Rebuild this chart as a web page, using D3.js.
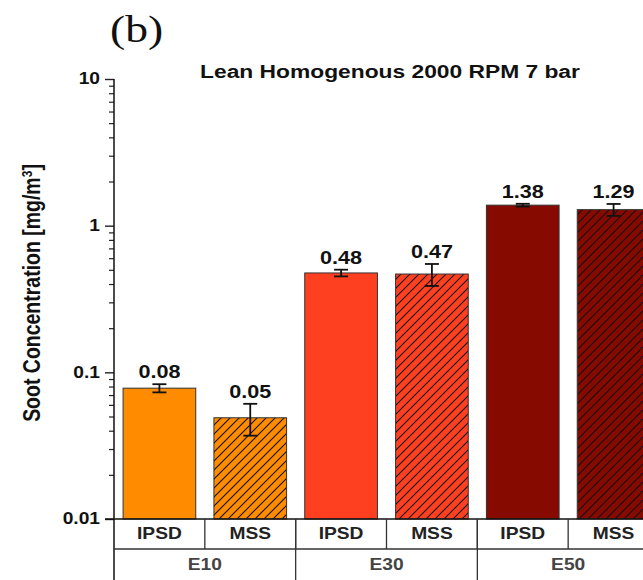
<!DOCTYPE html>
<html>
<head>
<meta charset="utf-8">
<script src="https://cdn.jsdelivr.net/npm/d3@7"></script>
<style>
  html, body { margin: 0; padding: 0; background: #fff; overflow: hidden; }
  svg { display: block; }
  text { font-family: "Liberation Sans", Arial, sans-serif; font-weight: bold; fill: #111; }
</style>
</head>
<body>
<div id="chart"></div>
<script>
// ---------------- data ----------------
const panelLabel = "(b)";
const chartTitle = "Lean Homogenous 2000 RPM 7 bar";
const groups = ["E10", "E30", "E50"];
const methods = ["IPSD", "MSS"];
const ipsdValues = [0.078, 0.476, 1.38];
const mssValues = [0.049, 0.468, 1.286];
const ipsdErrors = [0.005, 0.025, 0.03];
const mssErrors = [0.012, 0.08, 0.12];
const yTickValues = [0.01, 0.1, 1, 10];
const yTickLabels = ["0.01", "0.1", "1", "10"];
const groupColors = ["#FF8C00", "#FF4020", "#870A00"];

// rows built from the arrays
const rows = [];
groups.forEach((g, i) => {
  rows.push({ group: g, gi: i, method: methods[0], value: ipsdValues[i], err: ipsdErrors[i] });
  rows.push({ group: g, gi: i, method: methods[1], value: mssValues[i], err: mssErrors[i] });
});
rows.forEach(r => r.key = r.group + "|" + r.method);

// ---------------- layout ----------------
const W = 643, H = 580;
const SX = 1.2; // horizontal stretch of the original figure's text
const plot = { left: 114, right: 659, top: 79, bottom: 519 };
const row1Bottom = 549, row2Bottom = 580;

const svg = d3.select("#chart").append("svg").attr("width", W).attr("height", H);

const defs = svg.append("defs");
groupColors.forEach((c, i) => {
  const p = defs.append("pattern")
    .attr("id", "hatch" + i)
    .attr("patternUnits", "userSpaceOnUse")
    .attr("width", 9).attr("height", 9);
  p.append("rect").attr("width", 9).attr("height", 9).attr("fill", c);
  p.append("path")
    .attr("d", "M-2,2 L2,-2 M0,9 L9,0 M7,11 L11,7")
    .attr("stroke", "#111").attr("stroke-width", 1.1);
});

const x = d3.scaleBand().domain(rows.map(r => r.key)).range([plot.left, plot.right]).paddingInner(0).paddingOuter(0);
const xg = d3.scaleBand().domain(groups).range([plot.left, plot.right]).paddingInner(0).paddingOuter(0);
const y = d3.scaleLog().domain([0.01, 10]).range([plot.bottom, plot.top]);

function stretchedText(sel, tx, ty, extra) {
  return sel.attr("x", 0).attr("y", 0)
    .attr("transform", `translate(${tx},${ty}) scale(${SX},1)` + (extra || ""));
}

// ---------------- y axis ----------------
const minorTicks = [];
[0.01, 0.1, 1].forEach(d => { for (let k = 2; k <= 9; k++) minorTicks.push(+(d * k).toPrecision(3)); });

const gMinor = svg.append("g").attr("transform", `translate(${plot.left},0)`)
  .call(d3.axisLeft(y).tickValues(minorTicks).tickSize(5).tickFormat(""));
gMinor.select(".domain").remove();
gMinor.selectAll(".tick line").attr("stroke", "#222").attr("stroke-width", 1.2);

const gMajor = svg.append("g").attr("transform", `translate(${plot.left},0)`)
  .call(d3.axisLeft(y).tickValues(yTickValues).tickSize(9).tickFormat(""));
gMajor.select(".domain").remove();
gMajor.selectAll(".tick line").attr("stroke", "#222").attr("stroke-width", 1.4);

svg.append("g").selectAll("text").data(yTickValues).join("text")
  .each(function(d) { stretchedText(d3.select(this), 100, y(d)); })
  .attr("text-anchor", "end").attr("dominant-baseline", "central")
  .style("font-size", "16px")
  .text((d, i) => yTickLabels[i]);

// ---------------- bars ----------------
const bw = x.bandwidth();
svg.append("g").selectAll("rect.bar").data(rows).join("rect")
  .attr("class", "bar")
  .attr("x", d => x(d.key) + bw * 0.1)
  .attr("width", bw * 0.8)
  .attr("y", d => y(d.value))
  .attr("height", d => y(0.01) - y(d.value))
  .attr("fill", d => d.method === "MSS" ? `url(#hatch${d.gi})` : groupColors[d.gi])
  .attr("stroke", "#333").attr("stroke-width", 1);

// ---------------- error bars ----------------
const eg = svg.append("g").attr("stroke", "#111").attr("stroke-width", 1.8).attr("fill", "none");
rows.forEach(d => {
  const cx = x(d.key) + bw / 2;
  const y1 = y(d.value + d.err), y0 = y(d.value - d.err);
  eg.append("line").attr("x1", cx).attr("x2", cx).attr("y1", y1).attr("y2", y0);
  eg.append("line").attr("x1", cx - 7).attr("x2", cx + 7).attr("y1", y1).attr("y2", y1);
  eg.append("line").attr("x1", cx - 7).attr("x2", cx + 7).attr("y1", y0).attr("y2", y0);
});

// ---------------- value labels ----------------
const fmt = d3.format(".2f");
svg.append("g").selectAll("text").data(rows).join("text")
  .each(function(d) {
    stretchedText(d3.select(this), x(d.key) + bw / 2, y(d.value + d.err) - 6);
  })
  .attr("text-anchor", "middle")
  .style("font-size", "18px")
  .text(d => fmt(d.value));

// ---------------- axis lines & category table ----------------
const lines = svg.append("g").attr("stroke", "#333").attr("stroke-width", 1.3);
lines.append("line").attr("x1", plot.left).attr("x2", plot.left).attr("y1", plot.top).attr("y2", row2Bottom).attr("stroke", "#111").attr("stroke-width", 1.5);
lines.append("line").attr("x1", plot.left - 9).attr("x2", plot.right).attr("y1", plot.bottom).attr("y2", plot.bottom).attr("stroke", "#111").attr("stroke-width", 1.5);
lines.append("line").attr("x1", plot.left).attr("x2", plot.right).attr("y1", row1Bottom).attr("y2", row1Bottom);
rows.forEach(d => {
  lines.append("line").attr("x1", x(d.key) + bw).attr("x2", x(d.key) + bw).attr("y1", plot.bottom).attr("y2", row1Bottom);
});
groups.forEach(g => {
  lines.append("line").attr("x1", xg(g) + xg.bandwidth()).attr("x2", xg(g) + xg.bandwidth()).attr("y1", plot.bottom).attr("y2", row2Bottom);
});

svg.append("g").selectAll("text").data(rows).join("text")
  .each(function(d) { stretchedText(d3.select(this), x(d.key) + bw / 2, 534); })
  .attr("text-anchor", "middle").attr("dominant-baseline", "central")
  .style("font-size", "16px").style("fill", "#222")
  .text(d => d.method);

svg.append("g").selectAll("text").data(groups).join("text")
  .each(function(g) { stretchedText(d3.select(this), xg(g) + xg.bandwidth() / 2, 570); })
  .style("font-size", "16px").style("fill", "#444").attr("text-anchor", "middle")
  .text(g => g);

// ---------------- titles ----------------
stretchedText(svg.append("text"), 390, 78)
  .attr("text-anchor", "middle").style("font-size", "19px").text(chartTitle);

stretchedText(svg.append("text"), 110, 42)
  .style("font-family", "'Liberation Serif', 'Times New Roman', serif")
  .style("font-weight", "normal").style("font-size", "38px").text(panelLabel);

const yl = stretchedText(svg.append("text"), 40, 293, " rotate(-90)")
  .attr("text-anchor", "middle").style("font-size", "19.5px");
yl.append("tspan").text("Soot Concentration [mg/m");
yl.append("tspan").attr("dy", -7).style("font-size", "12px").text("3");
yl.append("tspan").attr("dy", 7).text("]");
</script>
</body>
</html>
